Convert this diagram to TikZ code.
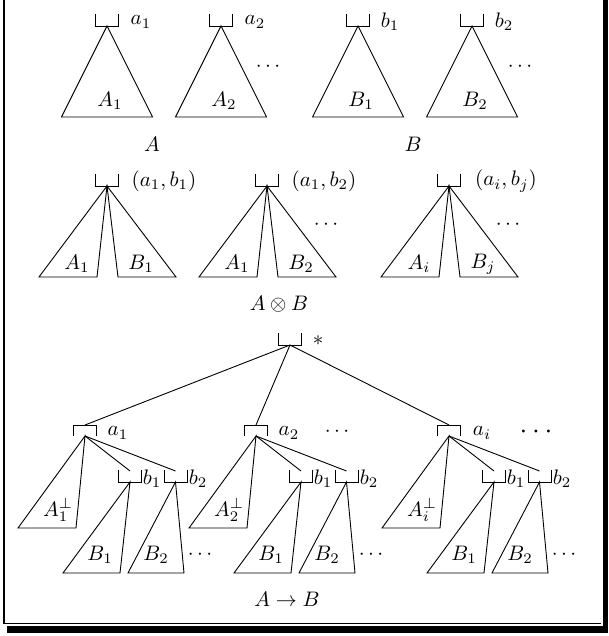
\documentclass[tikz,border=0pt]{standalone}
\newcommand{\tx}[1]{\scalebox{2.1}{$#1$}}
\begin{document}
\begin{tikzpicture}[x=1pt,y=-1pt, line width=0.9pt,
  lbl/.style={inner sep=0pt},
  cupbr/.pic={\draw (-11.5,-12) -- (-11.5,0) -- (11.5,0) -- (11.5,-12);
              \coordinate (-ap) at (0,0); \coordinate (-mid) at (0,-11);},
  capbr/.pic={\draw (-11.5,11) -- (-11.5,0) -- (11.5,0) -- (11.5,11);
              \coordinate (-top) at (0,0); \coordinate (-ap) at (0,11);}]
\useasboundingbox (0,0) rectangle (608,636);

% frame with shadow
\draw[line width=1.6pt] (4,0) -- (4,623.5) -- (601,623.5);
\fill (7,626) rectangle (608,633);
\fill (603,0) rectangle (608,633);

% ---- top row: A and B
\foreach \n/\x in {ta/107, tb/221, tc/358, td/472} {
  \pic (\n) at (\x,26) {cupbr};
  \coordinate (\n-l) at (\x-45.5,117);
  \coordinate (\n-r) at (\x+45.5,117);
  \draw (\n-ap) -- (\n-l) -- (\n-r) -- cycle;
}
\node[lbl] (la1) at (141,22) {\tx{a_1}};
\node[lbl] (la2) at (255,22) {\tx{a_2}};
\node[lbl] (lb1) at (390,22) {\tx{b_1}};
\node[lbl] (lb2) at (504,22) {\tx{b_2}};
\node[lbl] (tA1) at (110,101) {\tx{A_1}};
\node[lbl] (tA2) at (224,101) {\tx{A_2}};
\node[lbl] (tB1) at (361,101) {\tx{B_1}};
\node[lbl] (tB2) at (475,101) {\tx{B_2}};
\node[lbl] (dA) at (268,67) {\tx{\cdots}};
\node[lbl] (dB) at (520,67) {\tx{\cdots}};
\node[lbl] (capA) at (152,144) {\tx{A}};
\node[lbl] (capB) at (413,144) {\tx{B}};

% ---- middle row: A tensor B
\foreach \n/\x in {ma/107, mb/267, mc/449} {
  \pic (\n) at (\x,186) {cupbr};
  \draw (\n-ap) -- (\x-68,277) -- (\x-10,277) -- cycle;
  \draw (\n-ap) -- (\x+11,277) -- (\x+69,277) -- cycle;
}
\node[lbl] (m1) at (164,181) {\tx{(a_1,b_1)}};
\node[lbl] (m2) at (324,181) {\tx{(a_1,b_2)}};
\node[lbl] (m3) at (506,181) {\tx{(a_i,b_j)}};
\node[lbl] (mA1) at (77,264) {\tx{A_1}};
\node[lbl] (mB1) at (141,264) {\tx{B_1}};
\node[lbl] (mA2) at (237,264) {\tx{A_1}};
\node[lbl] (mB2) at (301,264) {\tx{B_2}};
\node[lbl] (mA3) at (419,264) {\tx{A_i}};
\node[lbl] (mB3) at (483,264) {\tx{B_j}};
\node[lbl] (md2) at (326,225) {\tx{\cdots}};
\node[lbl] (md3) at (508,225) {\tx{\cdots}};
\node[lbl] (capAB) at (279,304) {\tx{A\otimes B}};

% ---- bottom: A -> B
\pic (r) at (290,345) {cupbr};
\node[lbl] (star) at (318,341) {\tx{*}};
\foreach \n/\X/\s in {ba/85/1, bb/256/2, bc/449/i} {
  \pic (\n) at (\X,425) {capbr};
  \draw (r-ap) -- (\n-top);
  \draw (\n-ap) -- (\X-67,528) -- (\X-9,528) -- cycle;
  \pic (\n1) at (\X+45,482) {cupbr};
  \pic (\n2) at (\X+90.5,482) {cupbr};
  \draw (\n-ap) -- (\n1-mid);
  \draw (\n-ap) -- (\n2-mid);
  \draw (\n1-ap) -- (\X-22,573) -- (\X+35,573) -- cycle;
  \draw (\n2-ap) -- (\X+43,573) -- (\X+99,573) -- cycle;
  \node[lbl] (\n-a) at (\X+33,433) {\tx{a_{\s}}};
  \node[lbl] (\n-b1) at (\X+67,479) {\tx{b_1}};
  \node[lbl] (\n-b2) at (\X+113,479) {\tx{b_2}};
  \node[lbl] (\n-A) at (\X-27,510) {\tx{A_{\s}^{\perp}}};
  \node[lbl] (\n-B1) at (\X+15,555) {\tx{B_1}};
  \node[lbl] (\n-B2) at (\X+71,555) {\tx{B_2}};
  \node[lbl] (\n-d) at (\X+115,555) {\tx{\cdots}};
}
\node[lbl] (d2) at (337,432) {\tx{\cdots}};
\node[lbl] (d3) at (536,432) {\scalebox{2.8}{$\cdots$}};
\node[lbl] (capAtoB) at (287,599) {\tx{A\to B}};
\end{tikzpicture}
\end{document}
